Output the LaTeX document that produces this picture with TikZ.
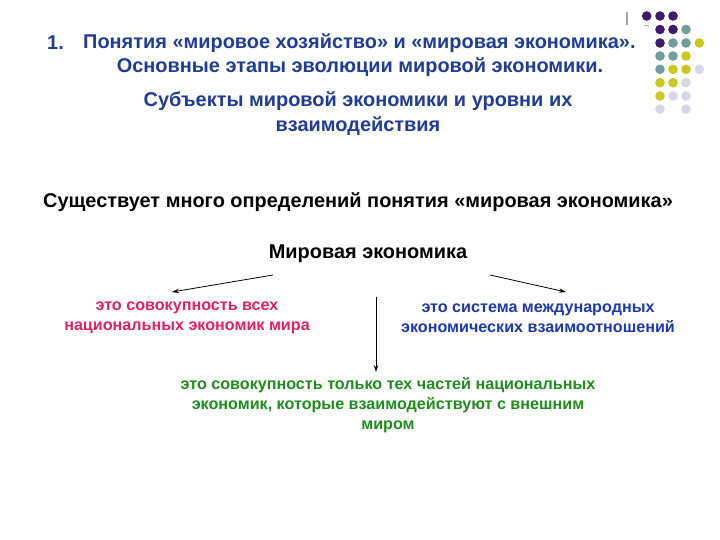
\documentclass[tikz,border=0pt]{standalone}
\usepackage{fontspec}
\setmainfont{Liberation Sans}
\usetikzlibrary{arrows.meta}
\definecolor{titleblue}{HTML}{1F3C96}
\definecolor{redtxt}{HTML}{E0225F}
\definecolor{bluetxt}{HTML}{1E3AAA}
\definecolor{greentxt}{HTML}{1E8C1E}
\definecolor{dpurple}{HTML}{3E1A6A}
\definecolor{dteal}{HTML}{6F9C9C}
\definecolor{dyellow}{HTML}{C9C81E}
\definecolor{dlav}{HTML}{D6D6E6}
\tikzset{
  ttl/.style={text=titleblue, font=\bfseries\fontsize{20}{24}\selectfont, inner sep=0pt},
  blk/.style={text=black, font=\bfseries\fontsize{20}{24}\selectfont, inner sep=0pt},
  sub/.style={font=\bfseries\fontsize{16.2}{20}\selectfont, align=center, inner sep=0pt},
  arr/.style={-{Stealth[length=7pt,width=4.5pt]}, line width=0.8pt, black},
  dot/.style={radius=4.8},
}
\begin{document}
\begin{tikzpicture}[x=1bp,y=-1bp]
\useasboundingbox[fill=white] (0,0) rectangle (720,540);
% decoration
\draw[gray!70, line width=1.6pt] (627,12) -- (627,25);
\draw[gray!70, line width=0.8pt] (644,25) -- (649,25);
\foreach \c/\x/\y in {dpurple/646.7/16, dpurple/660/16, dpurple/673/16,
  dpurple/660/29.5, dpurple/673/29.5, dteal/686/29.5,
  dpurple/660/43, dteal/673/43, dteal/686/43, dyellow/699.3/43,
  dteal/660/56, dteal/673/56, dyellow/686/56,
  dteal/660/69.3, dyellow/673/69.3, dyellow/686/69.3, dlav/699.3/69.3,
  dyellow/660/82.7, dyellow/673/82.7, dlav/686/82.7,
  dyellow/660/96, dlav/673/96, dlav/686/96,
  dlav/660/109, dlav/686/109}
  \fill[\c] (\x,\y) circle[dot];
% titles
\node[ttl, anchor=west] (n1) at (47,43) {1.};
\node[ttl, anchor=west] (t1) at (83,43) {Понятия «мировое хозяйство» и «мировая экономика».};
\node[ttl] (t2) at (360,67) {Основные этапы эволюции мировой экономики.};
\node[ttl] (t3) at (358,101) {Субъекты мировой экономики и уровни их};
\node[ttl] (t4) at (358,126) {взаимодействия};
\node[blk] (def) at (358,202) {Существует много определений понятия «мировая экономика»};
\node[blk] (me) at (368,254) {Мировая экономика};
% definitions
\node[sub, text=redtxt] (red) at (187,318) {это совокупность всех\\национальных экономик мира};
\node[sub, text=bluetxt] (blue) at (538,318) {это система международных\\экономических взаимоотношений};
\node[sub, text=greentxt] (green) at (388,405) {это совокупность только тех частей национальных\\экономик, которые взаимодействуют с внешним\\миром};
% arrows
\coordinate (a1s) at (273,275);
\coordinate (a1e) at (172,292);
\coordinate (a2s) at (490,275);
\coordinate (a2e) at (566,292);
\coordinate (a3s) at (376,297);
\coordinate (a3e) at (376,372);
\draw[arr] (a1s) -- (a1e);
\draw[arr] (a2s) -- (a2e);
\draw[arr] (a3s) -- (a3e);
\end{tikzpicture}
\end{document}
